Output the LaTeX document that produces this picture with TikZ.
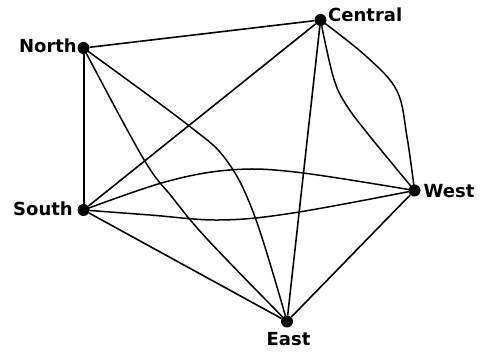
\documentclass[tikz,border=0pt]{standalone}
\usepackage{fontspec}
\newfontfamily\lblfont{DejaVu Sans}[BoldFont={DejaVu Sans Bold}]
\begin{document}
\begin{tikzpicture}[x=1pt,y=-1pt,
  dot/.style={circle,fill=black,draw=none,inner sep=0pt,minimum size=12pt},
  lbl/.style={inner sep=0pt,font=\lblfont\bfseries\fontsize{18}{20}\selectfont},
  edge/.style={draw=black,line width=1.6pt},
  curvy/.style={draw=black,line width=1.5pt,smooth,tension=0.6}]
\useasboundingbox (0,0) rectangle (483,352);
\fill[white] (0,0) rectangle (483,352);
% dots
\node[dot] (N) at (83.5,48) {};
\node[dot] (C) at (320.5,20) {};
\node[dot] (W) at (414.5,190.5) {};
\node[dot] (S) at (83.5,210) {};
\node[dot] (E) at (287,321.5) {};
% straight connectors
\draw[edge] (N) -- (C);
\draw[edge,line width=2pt] (N) -- (S);
\draw[edge] (S) -- (C);
\draw[edge] (S) -- (E);
\draw[edge] (C) -- (E);
\draw[edge] (W) -- (E);
% curved connectors
\draw[curvy] plot coordinates {(N) (188,125) (227,161) (255,217) (E)};
\draw[curvy] plot coordinates {(N) (143,158) (172,197) (208,240) (E)};
\draw[curvy] plot coordinates {(C) (333,76) (345,103) (368,134) (W)};
\draw[curvy] plot coordinates {(C) (367,57) (397,91) (407,137) (W)};
\draw[curvy] plot coordinates {(S) (165,182) (230,170) (295,172) (W)};
\draw[curvy] plot coordinates {(S) (150,215) (220,220) (293,213) (W)};
% labels
\node[lbl,anchor=east] (Nl) at (77,45.5) {North};
\node[lbl,anchor=west] (Cl) at (328,15) {Central};
\node[lbl,anchor=west] (Wl) at (423.5,191) {West};
\node[lbl,anchor=east] (Sl) at (73,208.5) {South};
\node[lbl,anchor=north] (El) at (288.5,332) {East};
\end{tikzpicture}
\end{document}
